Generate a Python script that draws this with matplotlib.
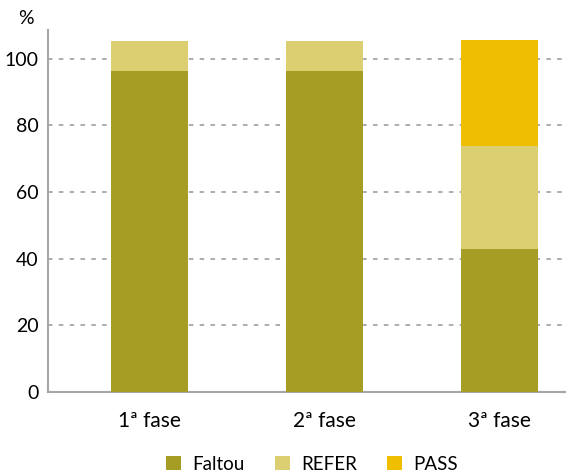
import matplotlib
matplotlib.use("Agg")
import matplotlib.pyplot as plt
import numpy as np

categories = ["1ª fase", "2ª fase", "3ª fase"]
faltou = [96.2, 96.4, 42.8]
refer = [9.1, 8.9, 31.1]
passv = [0.0, 0.0, 31.6]
yticks = [0, 20, 40, 60, 80, 100]

c_faltou = "#A59D24"
c_refer = "#DCCF72"
c_pass = "#F0BE00"

plt.rcParams['font.family'] = ['Lato', 'DejaVu Sans']

fig = plt.figure(figsize=(5.66, 4.74), dpi=100)
ax = fig.add_axes([48/566, 1-392/474, 1-48/566, (392-30)/474])

x = np.arange(len(categories))
w = 0.44
faltou_a = np.array(faltou)
refer_a = np.array(refer)
pass_a = np.array(passv)
ax.bar(x, faltou_a, w, color=c_faltou, label="Faltou", zorder=3)
ax.bar(x, refer_a, w, bottom=faltou_a, color=c_refer, label="REFER", zorder=3)
ax.bar(x, pass_a, w, bottom=faltou_a+refer_a, color=c_pass, label="PASS", zorder=3)

ax.set_xlim(-0.58, 2.38)
ax.set_ylim(0, 108.6)
ax.set_yticks(yticks)
ax.set_xticks(x)
ax.set_xticklabels(categories, fontsize=15)
ax.tick_params(axis='y', labelsize=14, length=0, pad=7)
ax.tick_params(axis='x', length=0, pad=14)
ax.yaxis.grid(True, color="#A6A6A6", linestyle=(0, (2.5, 3.5)), linewidth=1.3, zorder=1)
ax.set_axisbelow(True)
for s in ["top", "right"]:
    ax.spines[s].set_visible(False)
for s in ["left", "bottom"]:
    ax.spines[s].set_color("#A6A6A6")
    ax.spines[s].set_linewidth(1.5)

fig.text(26/566, 1-18/474, "%", fontsize=14, ha="center", va="center")

leg = fig.legend(loc="center", bbox_to_anchor=(312/566, 1-464/474), ncol=3, frameon=False,
                 fontsize=13.5, handlelength=0.8, handleheight=0.8, columnspacing=1.6, handletextpad=0.6)

fig.savefig("out.png", dpi=100)
